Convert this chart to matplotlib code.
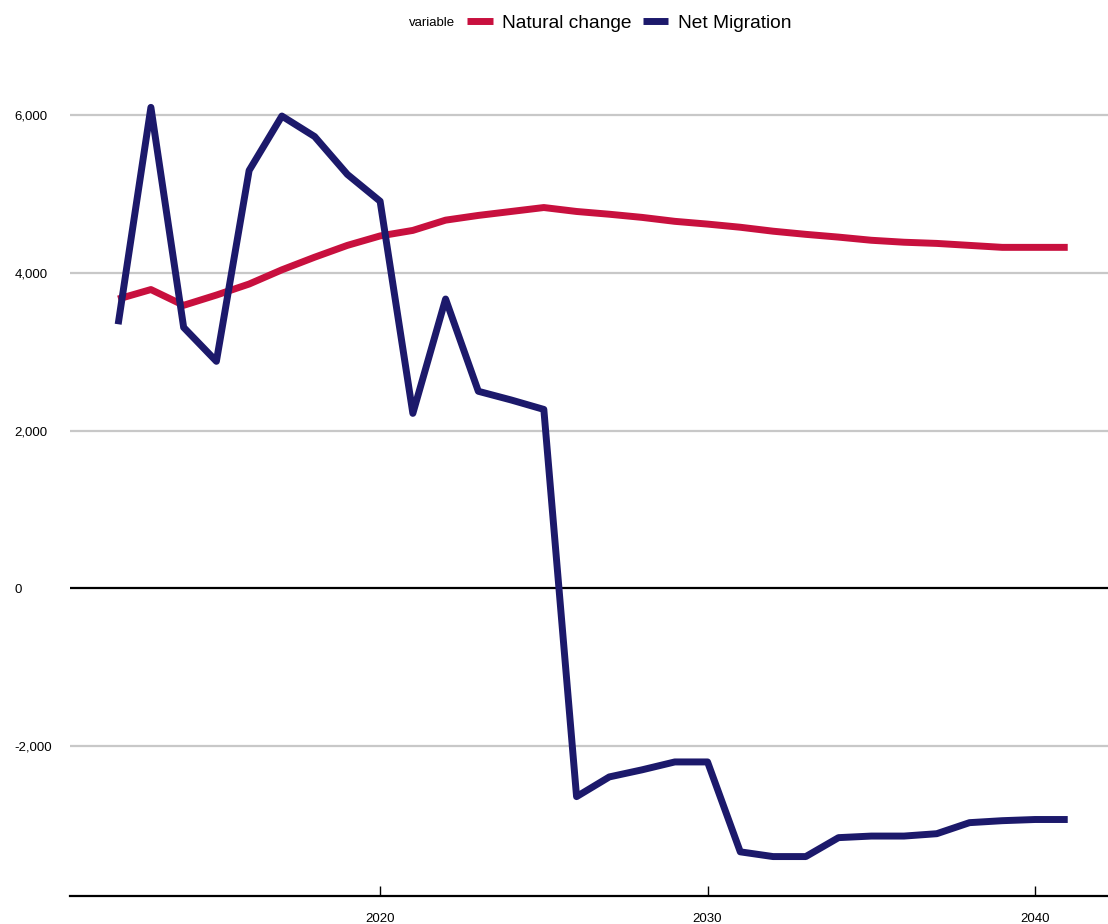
import matplotlib.pyplot as plt

plt.rcParams['font.family'] = ['Liberation Sans', 'DejaVu Sans']

# Data
years = list(range(2012, 2042))
natural_change = [3670, 3790, 3590, 3720, 3860, 4040, 4200, 4350, 4470, 4540,
                  4670, 4730, 4780, 4830, 4780, 4745, 4705, 4655, 4620, 4580,
                  4530, 4490, 4455, 4415, 4390, 4375, 4350, 4325, 4325, 4325]
net_migration = [3350, 6100, 3310, 2880, 5300, 5990, 5730, 5250, 4910, 2220,
                 3670, 2500, 2390, 2270, -2640, -2390, -2300, -2200, -2200, -3340,
                 -3400, -3400, -3160, -3140, -3140, -3110, -2970, -2945, -2930, -2930]
y_ticks = [-2000, 0, 2000, 4000, 6000]
x_ticks = [2020, 2030, 2040]

red = '#c8103e'
navy = '#1c196b'

fig = plt.figure(figsize=(11.08, 9.24), dpi=100)
ax = fig.add_axes([0.0632, 0.0303, 0.9368, 0.9047])

for y in y_ticks:
    if y == 0:
        ax.axhline(y, color='black', lw=1.6, zorder=1)
    else:
        ax.axhline(y, color='#c8c8c8', lw=1.6, zorder=1)

ax.plot(years, natural_change, color=red, lw=5, label='Natural change',
        solid_capstyle='butt', zorder=3)
ax.plot(years, net_migration, color=navy, lw=5, label='Net Migration',
        solid_capstyle='butt', zorder=4)

ax.set_xlim(2010.53, 2042.23)
ax.set_ylim(-3900, 6700)

ax.set_yticks(y_ticks)
ax.set_yticklabels([f'{v:,}' for v in y_ticks], fontsize=9.5, ha='left')
ax.tick_params(axis='y', length=0, pad=40)
ax.set_xticks(x_ticks)
ax.set_xticklabels([str(v) for v in x_ticks], fontsize=9.5)
ax.tick_params(axis='x', direction='in', length=7, width=1, pad=12)

for s in ['top', 'right', 'left']:
    ax.spines[s].set_visible(False)
ax.spines['bottom'].set_linewidth(1.6)

fig.text(0.4107, 0.975, 'variable', fontsize=9.5, ha='right', va='center')
fig.legend(loc='center left', bbox_to_anchor=(0.4215, 0.975), ncol=2,
           frameon=False, fontsize=13.8, handlelength=1.35, handletextpad=0.5,
           columnspacing=0.55, borderaxespad=0, borderpad=0)

fig.savefig('out.png', dpi=100)
